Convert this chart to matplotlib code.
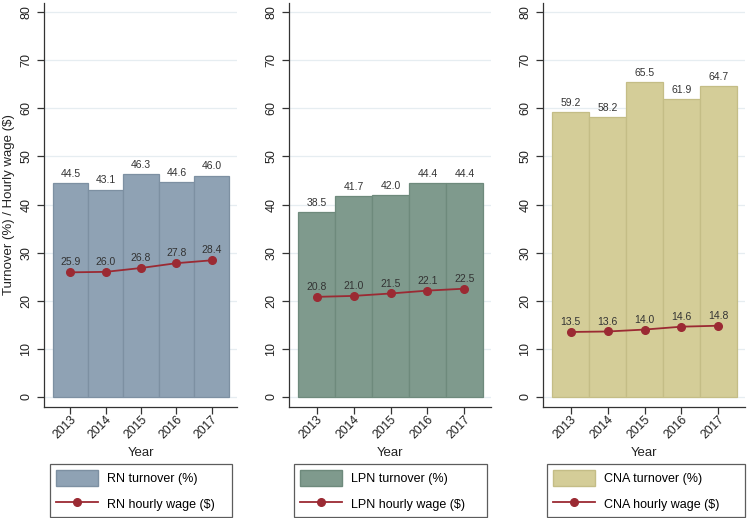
import matplotlib
matplotlib.use("Agg")
import matplotlib.pyplot as plt
from matplotlib.patches import Patch
from matplotlib.lines import Line2D

plt.rcParams['font.family'] = ['Liberation Sans', 'DejaVu Sans']

years = [2013, 2014, 2015, 2016, 2017]
rn_turnover = [44.5, 43.1, 46.3, 44.6, 46.0]
rn_wage = [25.9, 26.0, 26.8, 27.8, 28.4]
lpn_turnover = [38.5, 41.7, 42.0, 44.4, 44.4]
lpn_wage = [20.8, 21.0, 21.5, 22.1, 22.5]
cna_turnover = [59.2, 58.2, 65.5, 61.9, 64.7]
cna_wage = [13.5, 13.6, 14.0, 14.6, 14.8]

groups = ["RN", "LPN", "CNA"]
turnovers = [rn_turnover, lpn_turnover, cna_turnover]
wages = [rn_wage, lpn_wage, cna_wage]
bar_colors = ["#8fa2b4", "#7f9a8d", "#d4cd98"]
edge_colors = ["#7d90a2", "#6e8a7c", "#c4bd86"]
line_color = "#9b2a33"

W, H = 750, 518
fig = plt.figure(figsize=(W / 100, H / 100), dpi=100)

# axes pixel extents (left, right)
ax_px = [(44, 237), (289, 491), (543, 745)]
legend_px = [(50, 232), (294, 487), (547, 745)]
top_px, bottom_px = 3, 407

for i, g in enumerate(groups):
    l, r = ax_px[i]
    ax = fig.add_axes([l / W, 1 - bottom_px / H, (r - l) / W, (bottom_px - top_px) / H])
    ax.set_xlim(2012.25, 2017.72)
    ax.set_ylim(-2.1, 81.9)
    ax.set_yticks(range(0, 81, 10))
    ax.set_xticks(years)
    ax.grid(axis='y', color='#e6edf1', linewidth=0.9)
    ax.set_axisbelow(True)
    for s in ['top', 'right']:
        ax.spines[s].set_visible(False)
    for s in ['left', 'bottom']:
        ax.spines[s].set_color('#333333')
        ax.spines[s].set_linewidth(0.9)
    ax.tick_params(axis='both', length=5, width=0.9, color='#333333', labelcolor='#222222')
    ax.tick_params(axis='y', labelsize=9)
    ax.tick_params(axis='x', labelsize=8.8, pad=0)
    for lab in ax.get_yticklabels():
        lab.set_rotation(90)
        lab.set_va('center')
    ax.set_xticklabels([str(y) for y in years], rotation=45, ha='right', rotation_mode='anchor')

    ax.bar(years, turnovers[i], width=1.0, color=bar_colors[i], edgecolor=edge_colors[i], linewidth=0.9)
    ax.plot(years, wages[i], color=line_color, linewidth=1.3, marker='o', markersize=5.5)
    for x, v in zip(years, turnovers[i]):
        ax.annotate(f"{v:.1f}", (x, v), xytext=(0, 3), textcoords='offset points',
                    ha='center', va='bottom', fontsize=7.5, color='#333333')
    for x, v in zip(years, wages[i]):
        ax.annotate(f"{v:.1f}", (x, v), xytext=(0, 3.5), textcoords='offset points',
                    ha='center', va='bottom', fontsize=7.5, color='#333333')
    ax.set_xlabel("Year", fontsize=9.5, color='#222222', labelpad=4)
    if i == 0:
        ax.set_ylabel("Turnover (%) / Hourly wage ($)", fontsize=9.5, color='#222222', labelpad=4)

    handles = [Patch(facecolor=bar_colors[i], edgecolor=edge_colors[i]),
               Line2D([0], [0], color=line_color, linewidth=1.3, marker='o', markersize=5.5)]
    labels = [f"{g} turnover (%)", f"{g} hourly wage ($)"]
    ll, lr = legend_px[i]
    leg = fig.legend(handles, labels, loc='upper left',
                     bbox_to_anchor=(ll / W, 1 - 465 / H, (lr - ll) / W, 0.001),
                     mode='expand', fontsize=9, frameon=True, fancybox=False,
                     edgecolor='#333333', handlelength=3.4, handleheight=1.6,
                     labelspacing=0.75, borderpad=0.45, handletextpad=0.7, borderaxespad=0)
    leg.get_frame().set_linewidth(0.9)

fig.savefig("out.png", dpi=100)
